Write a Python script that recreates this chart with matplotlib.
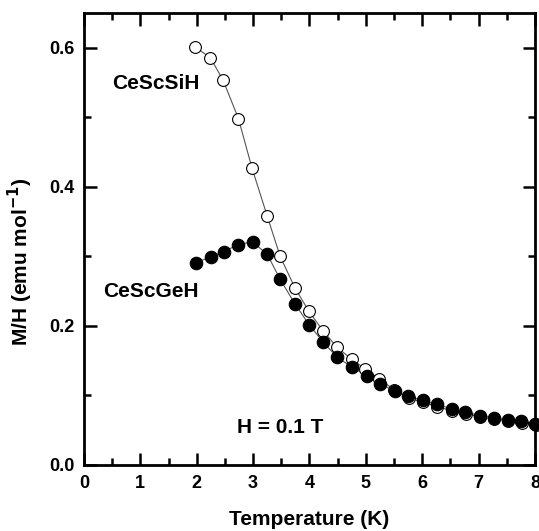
import matplotlib
matplotlib.use("Agg")
import matplotlib.pyplot as plt
from matplotlib.ticker import MultipleLocator

plt.rcParams['font.family'] = ['Liberation Sans', 'DejaVu Sans']
plt.rcParams['font.weight'] = 'bold'
plt.rcParams['mathtext.default'] = 'bf'

# CeScSiH (open circles)
t_si = [1.97, 2.24, 2.47, 2.74, 2.98, 3.25, 3.48, 3.74, 3.99, 4.24, 4.49, 4.75, 4.99,
        5.24, 5.50, 5.76, 6.02, 6.27, 6.52, 6.77, 7.02, 7.27, 7.52, 7.77, 8.01]
m_si = [0.601, 0.586, 0.553, 0.498, 0.427, 0.358, 0.300, 0.255, 0.221, 0.193, 0.169,
        0.152, 0.138, 0.124, 0.108, 0.096, 0.090, 0.084, 0.078, 0.074, 0.069, 0.066,
        0.063, 0.060, 0.057]

# CeScGeH (filled circles)
t_ge = [1.98, 2.25, 2.48, 2.74, 2.99, 3.25, 3.48, 3.74, 3.99, 4.24, 4.49, 4.75, 5.02,
        5.25, 5.51, 5.74, 6.01, 6.26, 6.52, 6.76, 7.03, 7.27, 7.52, 7.76, 8.00]
m_ge = [0.291, 0.299, 0.307, 0.317, 0.321, 0.303, 0.267, 0.232, 0.202, 0.177, 0.155,
        0.141, 0.128, 0.117, 0.106, 0.099, 0.093, 0.087, 0.081, 0.076, 0.071, 0.068,
        0.065, 0.063, 0.059]

fig = plt.figure(figsize=(5.39, 5.31), dpi=100)
ax = fig.add_axes([0.1558, 0.1243, 0.8368, 0.8512])

ax.plot(t_si, m_si, '-', color='#555555', lw=0.8, zorder=1)
ax.plot(t_ge, m_ge, '-', color='#555555', lw=0.8, zorder=1)
ax.plot(t_si, m_si, 'o', ms=8.5, mfc='white', mec='black', mew=0.8, zorder=2,
        linestyle='none', clip_on=False)
ax.plot(t_ge, m_ge, 'o', ms=9, mfc='black', mec='black', mew=0.8, zorder=3,
        linestyle='none', clip_on=False)

ax.set_xlim(0, 8)
ax.set_ylim(0, 0.65)
ax.xaxis.set_major_locator(MultipleLocator(1))
ax.xaxis.set_minor_locator(MultipleLocator(0.5))
ax.yaxis.set_minor_locator(MultipleLocator(0.1))
ax.set_yticks([0.0, 0.2, 0.4, 0.6])
ax.set_yticklabels(['0.0', '0.2', '0.4', '0.6'])

ax.tick_params(which='both', direction='in', top=True, right=True, width=1.8,
               labelsize=13)
ax.tick_params(which='major', length=9, pad=7)
ax.tick_params(which='minor', length=5)
for lab in ax.get_xticklabels() + ax.get_yticklabels():
    lab.set_fontweight('bold')
for s in ax.spines.values():
    s.set_linewidth(2.0)

ax.set_xlabel('Temperature (K)', fontsize=15, fontweight='bold', labelpad=13)
ax.set_ylabel('M/H (emu mol$^{-1}$)', fontsize=15, fontweight='bold')
ax.yaxis.set_label_coords(-0.108, 0.45)

ax.text(0.50, 0.549, 'CeScSiH', fontsize=15, fontweight='bold', va='center')
ax.text(0.34, 0.249, 'CeScGeH', fontsize=15, fontweight='bold', va='center')
ax.text(2.71, 0.054, 'H = 0.1 T', fontsize=15, fontweight='bold', va='center')

fig.savefig('out.png', dpi=100)
